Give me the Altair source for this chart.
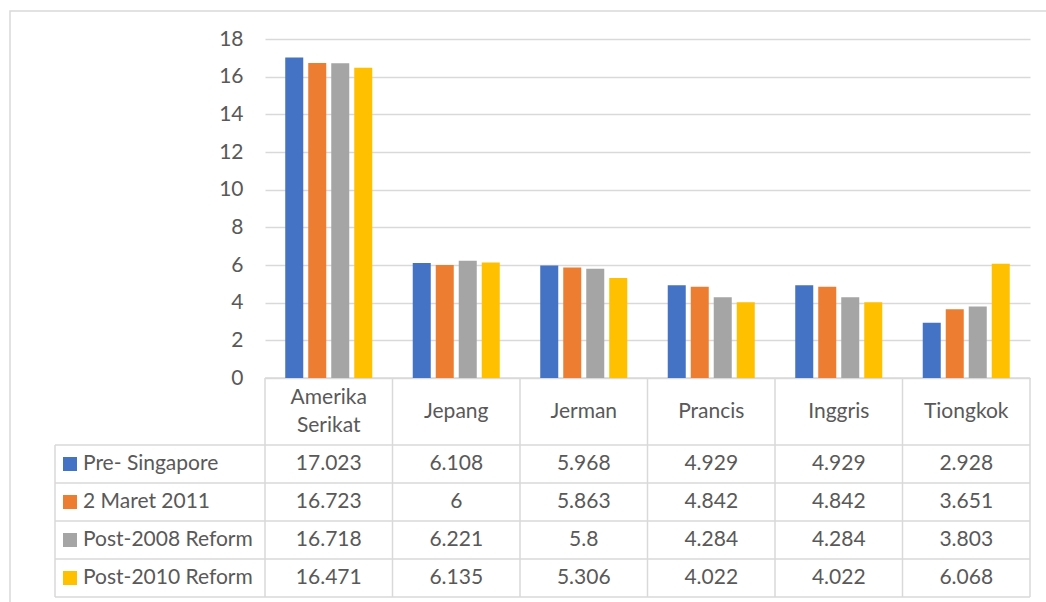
import altair as alt
import pandas as pd

categories = ["Amerika Serikat", "Jepang", "Jerman", "Prancis", "Inggris", "Tiongkok"]
series = ["Pre- Singapore", "2 Maret 2011", "Post-2008 Reform", "Post-2010 Reform"]
colors = ["#4472C4", "#ED7D31", "#A5A5A5", "#FFC000"]

pre_singapore = [17.023, 6.108, 5.968, 4.929, 4.929, 2.928]
maret_2011 = [16.723, 6, 5.863, 4.842, 4.842, 3.651]
post_2008 = [16.718, 6.221, 5.8, 4.284, 4.284, 3.803]
post_2010 = [16.471, 6.135, 5.306, 4.022, 4.022, 6.068]

y_ticks = [0, 2, 4, 6, 8, 10, 12, 14, 16, 18]

rows = []
for s, vals in zip(series, [pre_singapore, maret_2011, post_2008, post_2010]):
    for c, v in zip(categories, vals):
        rows.append({"category": c, "series": s, "value": v, "label": f"{v:g}"})
df = pd.DataFrame(rows)

FONT = "Lato"
TEXT = "#595959"
LINE = "#D9D9D9"
FS = 21

# layout (pixels, relative to plot origin)
W, H = 765, 339
col = W / 6
header_bottom = 406
row_h = 38
row_lines = [header_bottom + i * row_h for i in range(5)]
table_bottom = row_lines[-1]
legend_left = -210
line_h = 28

x_scale = alt.Scale(domain=categories, paddingInner=0, paddingOuter=0)
color_scale = alt.Scale(domain=series, range=colors)
row_y = alt.Y(
    "series:N",
    scale=alt.Scale(type="point", domain=series, range=[header_bottom + row_h / 2, header_bottom + row_h * 3.5], padding=0),
    axis=None,
)

bars = alt.Chart(df).mark_bar().encode(
    x=alt.X("category:N", scale=x_scale, axis=None, sort=categories),
    xOffset=alt.XOffset("series:N", scale=alt.Scale(domain=series, paddingInner=0.217, paddingOuter=0.88), sort=series),
    y=alt.Y(
        "value:Q",
        scale=alt.Scale(domain=[0, 18], nice=False),
        axis=alt.Axis(
            values=y_ticks, title=None, ticks=False, domain=False, labelPadding=22,
            labelFont=FONT, labelFontSize=FS, labelColor=TEXT,
            gridColor=LINE, gridWidth=1.5,
        ),
    ),
    color=alt.Color("series:N", scale=color_scale, legend=None),
)

# table grid segments
segs = []
segs.append({"x": 0, "x2": W, "y": H, "y2": H})
for yy in row_lines:
    segs.append({"x": legend_left, "x2": W, "y": yy, "y2": yy})
segs.append({"x": legend_left, "x2": legend_left, "y": header_bottom, "y2": table_bottom})
for i in range(7):
    segs.append({"x": i * col, "x2": i * col, "y": H, "y2": table_bottom})
seg_df = pd.DataFrame(segs)

grid = alt.Chart(seg_df).mark_rule(color=LINE, strokeWidth=1.5).encode(
    x=alt.X("x:Q", scale=None), x2="x2:Q",
    y=alt.Y("y:Q", scale=None), y2="y2:Q",
)

border = alt.Chart(pd.DataFrame({"a": [0]})).mark_rect(filled=False, stroke=LINE, strokeWidth=1.5).encode(
    x=alt.value(-255), x2=alt.value(W + 40), y=alt.value(-28), y2=alt.value(H + 260)
)

values_text = alt.Chart(df).mark_text(font=FONT, fontSize=FS, color=TEXT, baseline="middle").encode(
    x=alt.X("category:N", scale=x_scale, axis=None, sort=categories),
    y=row_y,
    text="label:N",
)

header_center = (H + header_bottom) / 2
header = alt.Chart(pd.DataFrame({"category": categories})).transform_calculate(
    lines="split(datum.category, ' ')"
).transform_calculate(
    ypos=f"{header_center} - (length(datum.lines) - 1) * {line_h / 2}"
).mark_text(font=FONT, fontSize=FS, color=TEXT, baseline="middle", lineHeight=line_h).encode(
    x=alt.X("category:N", scale=x_scale, axis=None, sort=categories),
    y=alt.Y("ypos:Q", scale=None, axis=None),
    text="lines:N",
)

leg_df = pd.DataFrame({"series": series})
leg_sq = alt.Chart(leg_df).mark_square(size=196, opacity=1).encode(
    x=alt.value(legend_left + 15),
    y=row_y,
    color=alt.Color("series:N", scale=color_scale, legend=None),
)
leg_txt = alt.Chart(leg_df).mark_text(font=FONT, fontSize=FS, color=TEXT, align="left", baseline="middle").encode(
    x=alt.value(legend_left + 28),
    y=row_y,
    text="series:N",
)

chart = alt.layer(border, grid, bars, values_text, header, leg_sq, leg_txt).resolve_scale(
    x="independent", y="independent"
).properties(
    width=W, height=H,
    autosize=alt.AutoSizeParams(type="none"),
    padding={"left": 265, "top": 39, "right": 16, "bottom": 224},
).configure_view(stroke=None)

chart.save("out.html", embed_options={"renderer": "svg", "actions": False})
